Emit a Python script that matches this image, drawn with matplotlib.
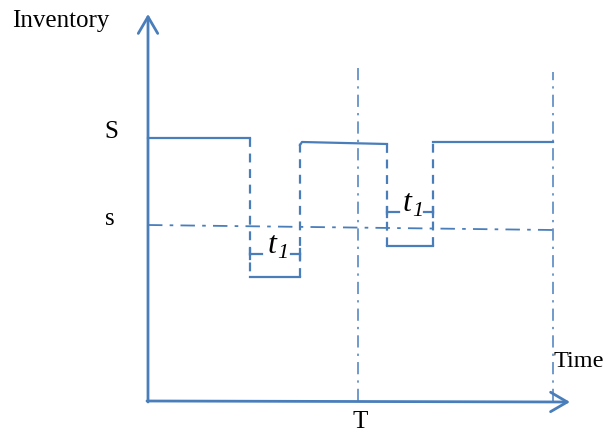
import matplotlib.pyplot as plt

# DATA (time offset, inventory level) measured from the axis origin
S_level = 263
s_start, s_end = 176, 171
t_end = 405
T = 210
order_times = [102, 239]       # inventory falls to s -> order placed
arrival_times = [152, 285]     # order arrives after lead time t1
low_levels = [124, 155]        # level just before arrival
high_levels = [259, 257, 259]  # level after each arrival
axis_top = 386
axis_right = 422

BLUE = '#4a7ebb'
plt.rcParams['font.family'] = ['Liberation Serif', 'DejaVu Serif']

fig = plt.figure(figsize=(6.05, 4.33), dpi=100)
ax = fig.add_axes([0, 0, 1, 1])
ax.set_xlim(-148, 457)
ax.set_ylim(-32, 401)
ax.axis('off')

# axes with open arrow heads
head = '->,head_length=1.2,head_width=0.7'
ax.annotate('', xy=(0, axis_top + 1), xytext=(0, -1),
            arrowprops=dict(arrowstyle=head, color=BLUE, lw=2, shrinkA=0, shrinkB=0))
ax.annotate('', xy=(axis_right, -1), xytext=(-1, 0),
            arrowprops=dict(arrowstyle=head, color=BLUE, lw=2, shrinkA=0, shrinkB=0))

# solid stock levels
ax.plot([0, order_times[0]], [S_level, S_level], color=BLUE, lw=1.6)
for i in range(2):
    ax.plot([order_times[i], arrival_times[i]], [low_levels[i], low_levels[i]], color=BLUE, lw=1.6)
ax.plot([arrival_times[0], arrival_times[0] + 2, order_times[1]],
        [high_levels[0] - 3, high_levels[0], high_levels[1]], color=BLUE, lw=1.6)
ax.plot([arrival_times[1], t_end], [high_levels[2], high_levels[2]], color=BLUE, lw=1.6)

# dashed jumps
dash = dict(color=BLUE, lw=1.6, ls=(0, (4, 3)))
ax.plot([order_times[0]] * 2, [S_level, low_levels[0]], **dash)
ax.plot([arrival_times[0]] * 2, [low_levels[0], high_levels[0]], **dash)
ax.plot([order_times[1]] * 2, [high_levels[1], low_levels[1]], **dash)
ax.plot([arrival_times[1]] * 2, [low_levels[1], high_levels[2]], **dash)

# reorder point s
ax.plot([0, t_end], [s_start, s_end], color=BLUE, lw=1.3, ls=(0, (8, 4, 2, 4)))

# period markers
dashdot = dict(color=BLUE, lw=1.1, ls=(0, (8, 4, 1.5, 4)))
ax.plot([T, T], [0, 333], **dashdot)
ax.plot([t_end, t_end], [0, 329], **dashdot)

# lead-time brackets
bracket_y = [147, 189]
for i in range(2):
    a, b = order_times[i], arrival_times[i]
    y = bracket_y[i]
    ax.plot([a, a + 12], [y, y], color=BLUE, lw=1.6)
    ax.plot([b - 9, b], [y, y], color=BLUE, lw=1.6)
    ax.plot([a, a], [y - 5, y + 5], color=BLUE, lw=1.6)
    ax.plot([b, b], [y - 5, y + 5], color=BLUE, lw=1.6)
    mid = (a + b) / 2
    ax.text(mid + 1, y + 1, 't', fontsize=23, style='italic', ha='right', va='baseline')
    ax.text(mid + 2, y - 4, '1', fontsize=16, style='italic', ha='left', va='baseline')

# labels
ax.text(-136, 374, 'Inventory', fontsize=18, ha='left', va='baseline')
ax.text(-37, 263, 'S', fontsize=18, ha='center', va='baseline')
ax.text(-38, 176, 's', fontsize=18, ha='center', va='baseline')
ax.text(T + 2, -27, 'T', fontsize=18, ha='center', va='baseline')
ax.text(t_end + 1, 34, 'Time', fontsize=17.5, ha='left', va='baseline')

fig.savefig('out.png', dpi=100)
